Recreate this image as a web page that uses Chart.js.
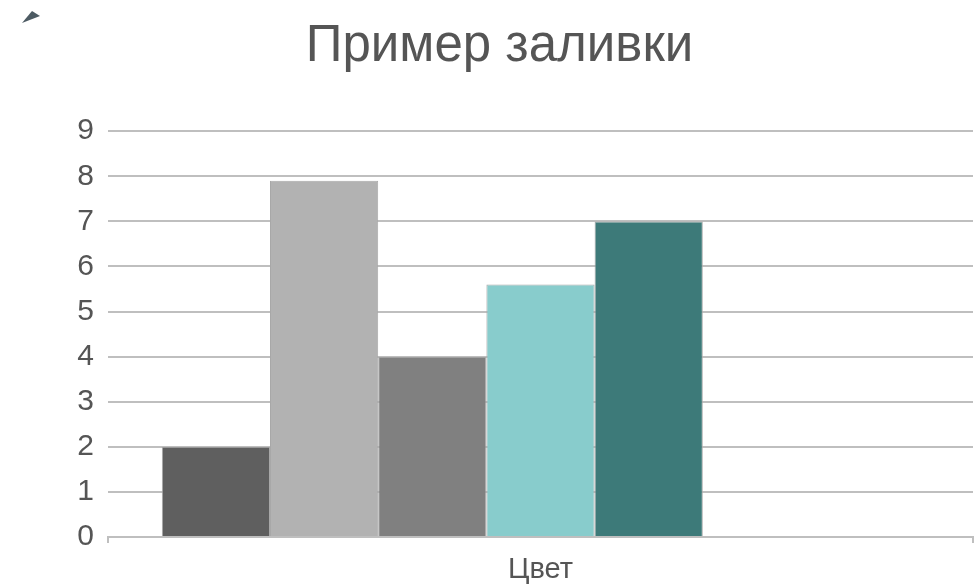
<!DOCTYPE html>
<html lang="ru">
<head>
    <meta charset="UTF-8">
    <title>Пример заливки</title>
    <style>
        body {
            margin: 0;
            padding: 0;
            background-color: #ffffff;
            font-family: 'Liberation Sans', Arial, sans-serif;
        }

        .chart-container {
            position: relative;
            width: 975px;
            height: 586px;
        }

        .corner-mark {
            position: absolute;
            left: 0;
            top: 0;
        }
    </style>
    <script src="https://cdn.jsdelivr.net/npm/chart.js"></script>
</head>
<body>
    <div class="chart-container">
        <canvas id="fillChart"></canvas>
        <svg class="corner-mark" width="44" height="28" viewBox="0 0 44 28">
            <polygon points="22,23 32,11 40,16" fill="#4d5b63"/>
        </svg>
    </div>

    <script>
        const categories = ['Цвет'];
        const seriesNames = ['Ряд 1', 'Ряд 2', 'Ряд 3', 'Ряд 4', 'Ряд 5', 'Ряд 6', 'Ряд 7'];
        const seriesValues = [[2], [7.9], [4], [5.6], [7], [null], [null]];
        const seriesColors = ['#5f5f5f', '#b2b2b2', '#808080', '#88cccc', '#3d7a79', '#ffffff', '#ffffff'];
        const yTicks = [0, 1, 2, 3, 4, 5, 6, 7, 8, 9];

        const textColor = '#555555';
        const gridColor = '#bfbfbf';
        const fontFamily = "'Liberation Sans', Arial, sans-serif";

        const ctx = document.getElementById('fillChart').getContext('2d');

        const datasets = seriesNames.map((name, i) => ({
            label: name,
            data: seriesValues[i],
            backgroundColor: seriesColors[i],
            borderColor: '#a8a8a8',
            borderWidth: 1,
            borderSkipped: 'bottom',
            barPercentage: 1,
            categoryPercentage: 0.8756
        }));

        const chart = new Chart(ctx, {
            type: 'bar',
            data: {
                labels: categories,
                datasets: datasets
            },
            options: {
                responsive: true,
                maintainAspectRatio: false,
                animation: false,
                layout: {
                    padding: { left: 26, right: 2, top: 0, bottom: 0 }
                },
                scales: {
                    x: {
                        grid: {
                            drawOnChartArea: false,
                            drawTicks: true,
                            tickLength: 6,
                            color: gridColor,
                            lineWidth: 2
                        },
                        border: {
                            display: true,
                            color: gridColor,
                            width: 2
                        },
                        ticks: {
                            color: textColor,
                            padding: 10,
                            font: { family: fontFamily, size: 29 }
                        },
                        afterFit: function (scale) {
                            scale.height = 49;
                        }
                    },
                    y: {
                        min: 0,
                        max: 9,
                        afterBuildTicks: function (scale) {
                            scale.ticks = yTicks.map(v => ({ value: v }));
                        },
                        grid: {
                            drawTicks: false,
                            color: gridColor,
                            lineWidth: 2
                        },
                        border: { display: false },
                        ticks: {
                            color: textColor,
                            padding: 14,
                            font: { family: fontFamily, size: 30 }
                        },
                        afterFit: function (scale) {
                            scale.width = 82;
                        }
                    }
                },
                plugins: {
                    legend: { display: false },
                    tooltip: { enabled: false },
                    title: {
                        display: true,
                        text: 'Пример заливки',
                        color: textColor,
                        font: { family: fontFamily, size: 51, weight: 'normal' },
                        padding: { top: 16, bottom: 54 }
                    }
                }
            }
        });
    </script>
</body>
</html>
